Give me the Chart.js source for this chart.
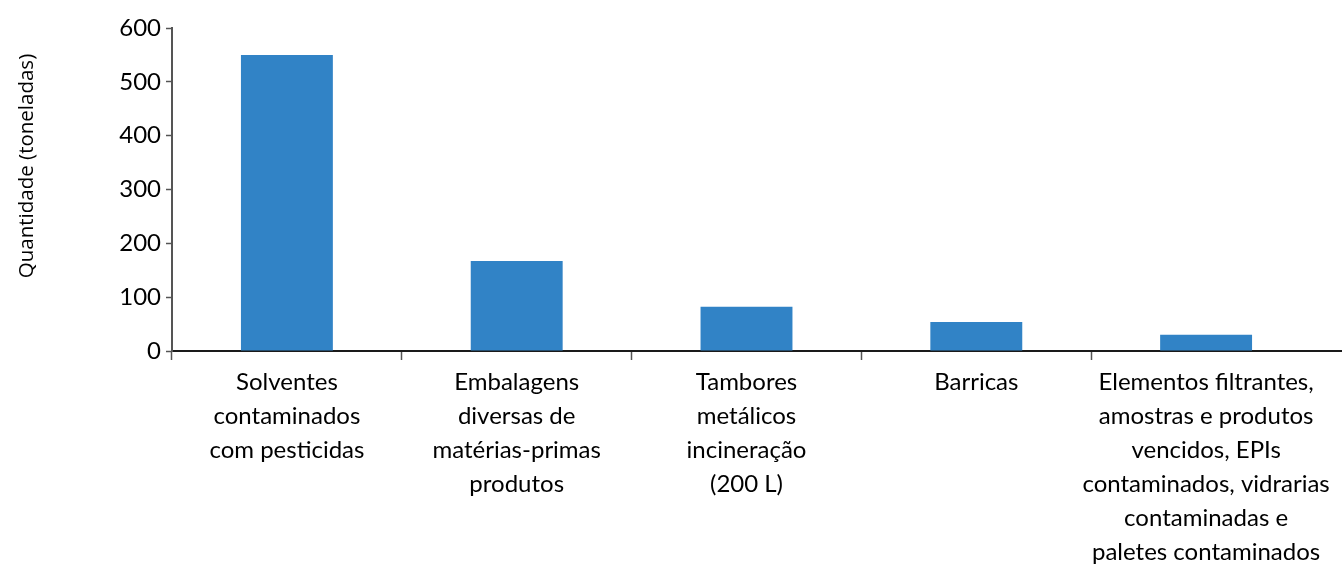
<!DOCTYPE html>
<html>
<head>
<meta charset="utf-8">
<script src="https://cdn.jsdelivr.net/npm/chart.js@4"></script>
<style>
  html, body { margin: 0; padding: 0; background: #fff; }
  #wrap { width: 1342px; height: 568px; }
</style>
</head>
<body>
<div id="wrap"><canvas id="chart" width="1342" height="568"></canvas></div>
<script>
const categories = [
    ["Solventes", "contaminados", "com pesticidas"],
    ["Embalagens", "diversas de", "matérias-primas", "produtos"],
    ["Tambores", "metálicos", "incineração", "(200 L)"],
    ["Barricas"],
    ["Elementos filtrantes,", "amostras e produtos", "vencidos, EPIs", "contaminados, vidrarias", "contaminadas e", "paletes contaminados"]
];
const quantities = [550, 167, 82, 54, 30];
const yTicks = [0, 100, 200, 300, 400, 500, 600];
const yTitle = "Quantidade (toneladas)";

const labelFont = { family: "Lato, 'Liberation Sans', sans-serif", size: 24 };

// axis title drawn by hand so it sits where the original has it
const yTitlePlugin = {
    id: "yTitle",
    afterDraw: function (chart) {
        const ctx = chart.ctx;
        ctx.save();
        ctx.translate(27, 166);
        ctx.rotate(-Math.PI / 2);
        ctx.font = "20.5px 'Open Sans', sans-serif";
        ctx.fillStyle = "#000";
        ctx.textAlign = "center";
        ctx.textBaseline = "middle";
        ctx.fillText(yTitle, 0, 0);
        ctx.restore();
    }
};

// x axis line in the original runs on to the right edge
const axisExtend = {
    id: "axisExtend",
    afterDraw: function (chart) {
        const a = chart.chartArea;
        const ctx = chart.ctx;
        ctx.save();
        ctx.strokeStyle = "#1a1a1a";
        ctx.lineWidth = 2;
        ctx.beginPath();
        ctx.moveTo(a.right - 1, a.bottom);
        ctx.lineTo(chart.width, a.bottom);
        ctx.stroke();
        ctx.restore();
    }
};

new Chart(document.getElementById("chart"), {
    type: "bar",
    data: {
        labels: categories,
        datasets: [{
            label: yTitle,
            data: quantities,
            backgroundColor: "#3183c6",
            borderWidth: 0,
            barPercentage: 0.4,
            categoryPercentage: 1.0
        }]
    },
    options: {
        responsive: false,
        animation: false,
        layout: { padding: { top: 28, right: 21, left: 0, bottom: 0 } },
        plugins: {
            legend: { display: false },
            tooltip: { enabled: false }
        },
        scales: {
            x: {
                offset: true,
                grid: {
                    offset: true,
                    drawOnChartArea: false,
                    tickLength: 9,
                    tickWidth: 1.5,
                    // no tick mark on the far right boundary
                    color: function (c) { return c.type === "tick" ? "#555" : "rgba(0,0,0,0)"; }
                },
                border: { color: "#1a1a1a", width: 2 },
                ticks: {
                    autoSkip: false,
                    maxRotation: 0,
                    padding: 5,
                    color: "#000",
                    font: Object.assign({ lineHeight: "34px" }, labelFont)
                },
                afterFit: function (s) { s.height = 217; }
            },
            y: {
                min: 0,
                max: 600,
                afterBuildTicks: function (s) { s.ticks = yTicks.map(function (v) { return { value: v }; }); },
                grid: {
                    drawOnChartArea: false,
                    tickLength: 6,
                    tickWidth: 1.5,
                    color: "#555"
                },
                border: { color: "#555", width: 2 },
                ticks: {
                    padding: 5,
                    color: "#000",
                    font: labelFont
                },
                afterFit: function (s) { s.width = 172; }
            }
        }
    },
    plugins: [yTitlePlugin, axisExtend]
});
</script>
</body>
</html>
